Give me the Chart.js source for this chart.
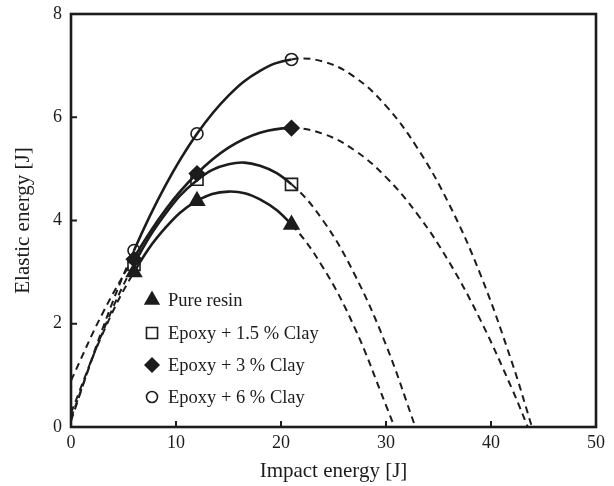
<!DOCTYPE html>
<html>
<head>
<meta charset="utf-8">
<script src="https://cdn.jsdelivr.net/npm/chart.js@4.4.0/dist/chart.umd.min.js"></script>
<style>
  html, body { margin: 0; padding: 0; background: #fff; }
  #wrap { width: 614px; height: 486px; }
</style>
</head>
<body>
<div id="wrap"><canvas id="chart" width="614" height="486"></canvas></div>
<script>
// measured points
const impactX = [6, 12, 21];
const pureResin = [3.0, 4.38, 3.92];
const clay15 = [3.15, 4.8, 4.7];
const clay3 = [3.25, 4.91, 5.79];
const clay6 = [3.42, 5.68, 7.12];

// fitted curves
const fitX = [0, 3, 6, 9, 12, 15, 18, 21, 24, 27, 30, 33, 36, 39, 42];
const pureFitY = [0.27, 1.80, 3.00, 3.86, 4.38, 4.56, 4.41, 3.92, 3.09, 1.93, 0.42];
const clay15FitY = [0.17, 1.83, 3.15, 4.13, 4.78, 5.09, 5.06, 4.70, 4.00, 2.96, 1.59];
const clay3FitY = [0.90, 2.20, 3.28, 4.21, 4.91, 5.41, 5.70, 5.79, 5.68, 5.36, 4.84, 4.12, 3.20, 2.07, 0.74];
const clay6FitY = [0.12, 1.90, 3.42, 4.68, 5.68, 6.42, 6.90, 7.12, 7.08, 6.78, 6.22, 5.40, 4.32, 2.95, 1.25];
const fitRoots = [30.8, 32.8, 43.5, 43.9];

const xTicks = [0, 10, 20, 30, 40, 50];
const yTicks = [0, 2, 4, 6, 8];

const seriesLabels = ['Pure resin', 'Epoxy + 1.5 % Clay', 'Epoxy + 3 % Clay', 'Epoxy + 6 % Clay'];

const ink = '#1c1c1c';
const serif = '"Liberation Serif", "Times New Roman", serif';

const markerStyles = [
  { pointStyle: 'triangle', radius: 8.5, fill: ink },
  { pointStyle: 'rect', radius: 8.5, fill: 'rgba(0,0,0,0)' },
  { pointStyle: 'rectRot', radius: 7.5, fill: ink },
  { pointStyle: 'circle', radius: 6, fill: 'rgba(0,0,0,0)' },
];

function toPoints(xs, ys) {
  return ys.map((v, i) => ({ x: xs[i], y: v }));
}

function fitPoints(ys, root) {
  const pts = toPoints(fitX, ys);
  pts.push({ x: root, y: 0 });
  return pts;
}

const markerData = [pureResin, clay15, clay3, clay6];
const fitData = [pureFitY, clay15FitY, clay3FitY, clay6FitY];

const markerSets = markerData.map((ys, i) => ({
  label: seriesLabels[i],
  data: toPoints(impactX, ys),
  showLine: false,
  pointStyle: markerStyles[i].pointStyle,
  pointRadius: markerStyles[i].radius,
  pointBackgroundColor: markerStyles[i].fill,
  pointBorderColor: ink,
  pointBorderWidth: 1.6,
}));

const curveSets = fitData.map((ys, i) => ({
  label: seriesLabels[i] + ' fit',
  data: fitPoints(ys, fitRoots[i]),
  showLine: true,
  pointRadius: 0,
  borderColor: ink,
  borderWidth: 2.4,
  tension: 0.4,
  segment: {
    borderDash: (ctx) => (ctx.p0.parsed.x < 6 || ctx.p0.parsed.x >= 21 ? [7, 5] : undefined),
    borderWidth: (ctx) => (ctx.p0.parsed.x < 6 || ctx.p0.parsed.x >= 21 ? 2 : 2.6),
  },
}));

const framePlugin = {
  id: 'frame',
  afterDraw(chart) {
    const { ctx, chartArea: a, scales: { x, y } } = chart;
    ctx.save();
    ctx.strokeStyle = ink;
    ctx.lineWidth = 2;
    ctx.beginPath();
    xTicks.forEach((t) => {
      const px = x.getPixelForValue(t);
      ctx.moveTo(px, a.bottom);
      ctx.lineTo(px, a.bottom - 6);
    });
    yTicks.forEach((t) => {
      const py = y.getPixelForValue(t);
      ctx.moveTo(a.left, py);
      ctx.lineTo(a.left + 6, py);
    });
    ctx.stroke();
    ctx.lineWidth = 2.6;
    ctx.strokeRect(a.left, a.top, a.right - a.left, a.bottom - a.top);
    ctx.restore();
  },
};

// legend sits inside the plot, lower left
const insideLegend = {
  id: 'insideLegend',
  afterDatasetsDraw(chart) {
    const { ctx } = chart;
    const rowY = [300, 333, 365, 397];
    ctx.save();
    ctx.font = '18.5px ' + serif;
    ctx.textBaseline = 'middle';
    markerSets.forEach((ds, i) => {
      ctx.fillStyle = markerStyles[i].fill;
      ctx.strokeStyle = ink;
      ctx.lineWidth = 1.6;
      Chart.helpers.drawPoint(ctx, {
        pointStyle: markerStyles[i].pointStyle,
        radius: markerStyles[i].radius * 0.92,
        borderWidth: 1.6,
        rotation: 0,
      }, 152, rowY[i]);
      ctx.fillStyle = ink;
      ctx.fillText(ds.label, 168, rowY[i] + 1);
    });
    ctx.restore();
  },
};

new Chart(document.getElementById('chart'), {
  type: 'scatter',
  data: { datasets: [...markerSets, ...curveSets] },
  options: {
    responsive: false,
    animation: false,
    layout: { padding: { top: 14, right: 18, left: 0, bottom: 0 } },
    plugins: {
      legend: { display: false },
      tooltip: { enabled: false },
    },
    scales: {
      x: {
        type: 'linear',
        min: 0,
        max: 50,
        afterBuildTicks: (scale) => { scale.ticks = xTicks.map((v) => ({ value: v })); },
        ticks: { color: ink, font: { family: serif, size: 18 }, padding: 5, maxRotation: 0 },
        grid: { display: false, drawTicks: false },
        border: { display: false },
        title: {
          display: true,
          text: 'Impact energy [J]',
          color: ink,
          font: { family: serif, size: 21 },
          padding: { top: 0, bottom: 2 },
        },
        afterFit: (scale) => {
          scale.height = 59;
          scale.paddingLeft = 0;
          scale.paddingRight = 0;
        },
      },
      y: {
        type: 'linear',
        min: 0,
        max: 8,
        afterBuildTicks: (scale) => { scale.ticks = yTicks.map((v) => ({ value: v })); },
        ticks: { color: ink, font: { family: serif, size: 18 }, padding: 9 },
        grid: { display: false, drawTicks: false },
        border: { display: false },
        title: {
          display: true,
          text: 'Elastic energy [J]',
          color: ink,
          font: { family: serif, size: 21 },
          padding: { top: 11, bottom: 0 },
        },
        afterFit: (scale) => {
          scale.width = 71;
          scale.paddingTop = 0;
          scale.paddingBottom = 0;
        },
      },
    },
  },
  plugins: [framePlugin, insideLegend],
});
</script>
</body>
</html>
